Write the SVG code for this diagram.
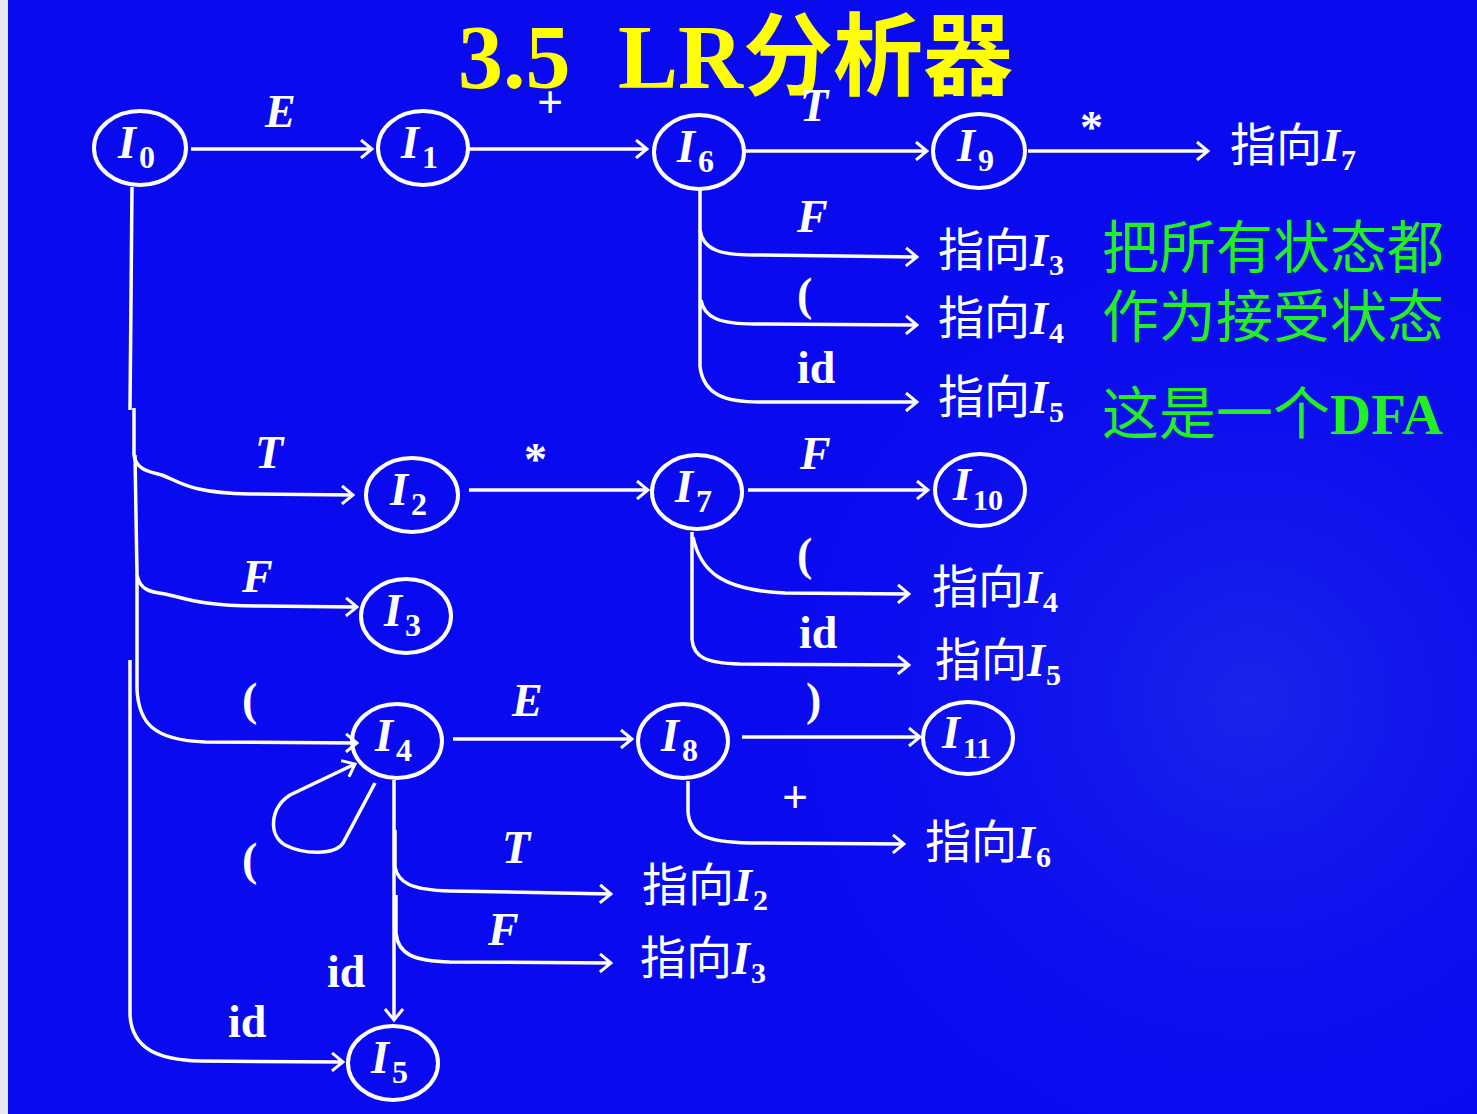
<svg xmlns="http://www.w3.org/2000/svg" width="1477" height="1114" viewBox="0 0 1477 1114">
<defs>
<radialGradient id="bgg" cx="1250" cy="700" r="550" gradientUnits="userSpaceOnUse">
<stop offset="0" stop-color="#2030e8" stop-opacity="0.7"/>
<stop offset="1" stop-color="#0a0af0" stop-opacity="0"/>
</radialGradient>
<marker id="ah" viewBox="0 0 14 20" refX="12" refY="10" markerWidth="14" markerHeight="20" markerUnits="userSpaceOnUse" orient="auto">
<path d="M1,1 L12,10 L1,19" fill="none" stroke="#fff" stroke-width="3"/>
</marker>
<style>
.n ellipse{fill:none;stroke:#fff;stroke-width:4}
.nl{font-family:"Liberation Serif",serif;font-style:italic;font-weight:bold;font-size:46px;fill:#fff}
.sb{font-style:normal;font-size:32px}
.sb2{font-style:normal;font-size:30px}
.c path{fill:none;stroke:#fff;stroke-width:3.5}
.ar{marker-end:url(#ah)}
.el{font-family:"Liberation Serif",serif;font-style:italic;font-weight:bold;font-size:46px;fill:#fff}
.er{font-family:"Liberation Serif",serif;font-weight:bold;font-size:46px;fill:#fff}
.pt{font-family:"Noto Sans CJK SC",sans-serif;font-size:46px;fill:#fff}
.pi{font-family:"Liberation Serif",serif;font-style:italic;font-weight:bold}
.ps{font-family:"Liberation Serif",serif;font-weight:bold;font-size:30px}
.gr{font-family:"Noto Sans CJK SC",sans-serif;font-size:57px;fill:#22f022}
</style>
</defs>
<rect width="1477" height="1114" fill="#0a0af0"/>
<rect width="1477" height="1114" fill="url(#bgg)"/>
<rect width="8" height="1114" fill="#e6e6ee"/>

<text x="458" y="88" font-family="Liberation Serif,serif" font-weight="bold" font-size="90" fill="#ffff00">3.5<tspan x="618">LR</tspan><tspan font-family="Noto Sans CJK SC,sans-serif">分析器</tspan></text>

<g class="c" id="connectors">
<path class="ar" d="M191,149 L372,149"/>
<path class="ar" d="M469,149 L647,149"/>
<path class="ar" d="M745,151 L927,151"/>
<path class="ar" d="M1028,151 L1208,151"/>
<path d="M700,190 L700,367"/>
<path class="ar" d="M700,230 C703,250 720,255 755,255 L917,257"/>
<path class="ar" d="M701,300 C704,318 720,324 755,324 L917,325"/>
<path class="ar" d="M700,367 C704,395 725,402 760,402 L917,402"/>
<path d="M132,187 L130,410"/>
<path class="ar" d="M134,408 L134,455 C136,470 150,472 162,475 C180,482 190,493 250,494 L353,495"/>
<path class="ar" d="M135,455 L137,575 C140,590 150,592 165,594 C185,598 200,606 260,606 L357,607"/>
<path class="ar" d="M137,575 L137,690 C139,722 152,740 205,742 L357,743"/>
<path class="ar" d="M130,660 L130,1015 C132,1050 160,1060 200,1061 L343,1062"/>
<path class="ar" d="M469,490 L648,490"/>
<path class="ar" d="M748,490 L928,490"/>
<path d="M692,532 L692,640"/>
<path class="ar" d="M693,537 C700,570 720,590 785,593 L909,594"/>
<path class="ar" d="M692,640 C694,657 705,663 740,664 L909,665"/>
<path class="ar" d="M453,739 L632,739"/>
<path class="ar" d="M742,737 L920,737"/>
<path class="ar" d="M688,781 L688,812 C690,835 705,842 750,843 L904,844"/>
<path class="ar" d="M375,783 L343,843 C335,855 305,855 285,845 C268,835 270,808 290,795 L355,764"/>
<path class="ar" d="M394,780 L394,1020"/>
<path class="ar" d="M395,830 L395,867 C398,882 410,890 450,891 L611,894"/>
<path class="ar" d="M396,895 L396,933 C398,955 415,961 450,962 L611,963"/>
</g>

<g id="edge-labels">
<text class="el" x="265" y="127">E</text>
<text class="er" x="537" y="118" font-weight="normal">+</text>
<text class="el" x="800" y="121">T</text>
<text class="er" x="1080" y="143" font-size="54">*</text>
<text class="el" x="797" y="232">F</text>
<text class="er" x="797" y="310" font-weight="normal">(</text>
<text class="er" x="797" y="383">id</text>
<text class="el" x="255" y="468">T</text>
<text class="el" x="242" y="592">F</text>
<text class="er" x="242" y="715" font-weight="normal">(</text>
<text class="er" x="228" y="1037">id</text>
<text class="er" x="524" y="475" font-size="54">*</text>
<text class="el" x="800" y="469">F</text>
<text class="er" x="797" y="570" font-weight="normal">(</text>
<text class="er" x="799" y="648">id</text>
<text class="el" x="512" y="716">E</text>
<text class="er" x="806" y="715" font-weight="normal">)</text>
<text class="er" x="782" y="813" font-weight="normal">+</text>
<text class="er" x="242" y="875" font-weight="normal">(</text>
<text class="el" x="502" y="863">T</text>
<text class="el" x="488" y="945">F</text>
<text class="er" x="327" y="987">id</text>
</g>

<g class="n" id="I0"><ellipse cx="140" cy="148" rx="46" ry="37"/><text class="nl" x="118" y="158">I<tspan class="sb" dx="3" dy="10">0</tspan></text></g>
<g class="n" id="I1"><ellipse cx="423" cy="148" rx="45" ry="37"/><text class="nl" x="401" y="158">I<tspan class="sb" dx="3" dy="10">1</tspan></text></g>
<g class="n" id="I6"><ellipse cx="699" cy="152" rx="45" ry="37"/><text class="nl" x="677" y="162">I<tspan class="sb" dx="3" dy="10">6</tspan></text></g>
<g class="n" id="I9"><ellipse cx="979" cy="151" rx="46" ry="37"/><text class="nl" x="957" y="161">I<tspan class="sb" dx="3" dy="10">9</tspan></text></g>
<g class="n" id="I2"><ellipse cx="412" cy="495" rx="46" ry="37"/><text class="nl" x="390" y="505">I<tspan class="sb" dx="3" dy="10">2</tspan></text></g>
<g class="n" id="I3"><ellipse cx="406" cy="616" rx="45" ry="37"/><text class="nl" x="384" y="626">I<tspan class="sb" dx="3" dy="10">3</tspan></text></g>
<g class="n" id="I7"><ellipse cx="697" cy="492" rx="45" ry="37"/><text class="nl" x="675" y="502">I<tspan class="sb" dx="3" dy="10">7</tspan></text></g>
<g class="n" id="I10"><ellipse cx="980" cy="490" rx="45" ry="36"/><text class="nl" x="953" y="500">I<tspan class="sb2" dx="2" dy="10">10</tspan></text></g>
<g class="n" id="I4"><ellipse cx="397" cy="741" rx="45" ry="37"/><text class="nl" x="375" y="751">I<tspan class="sb" dx="3" dy="10">4</tspan></text></g>
<g class="n" id="I8"><ellipse cx="683" cy="741" rx="45" ry="37"/><text class="nl" x="661" y="751">I<tspan class="sb" dx="3" dy="10">8</tspan></text></g>
<g class="n" id="I11"><ellipse cx="968" cy="738" rx="45" ry="36"/><text class="nl" x="942" y="748">I<tspan class="sb2" dx="3" dy="10">11</tspan></text></g>
<g class="n" id="I5"><ellipse cx="393" cy="1063" rx="45" ry="37"/><text class="nl" x="371" y="1073">I<tspan class="sb" dx="3" dy="10">5</tspan></text></g>

<g id="pointers">
<text class="pt" x="1230" y="161">指向<tspan class="pi">I</tspan><tspan class="ps" dx="1" dy="9">7</tspan></text>
<text class="pt" x="938" y="266">指向<tspan class="pi">I</tspan><tspan class="ps" dx="1" dy="9">3</tspan></text>
<text class="pt" x="938" y="334">指向<tspan class="pi">I</tspan><tspan class="ps" dx="1" dy="9">4</tspan></text>
<text class="pt" x="938" y="413">指向<tspan class="pi">I</tspan><tspan class="ps" dx="1" dy="9">5</tspan></text>
<text class="pt" x="932" y="603">指向<tspan class="pi">I</tspan><tspan class="ps" dx="1" dy="9">4</tspan></text>
<text class="pt" x="935" y="676">指向<tspan class="pi">I</tspan><tspan class="ps" dx="1" dy="9">5</tspan></text>
<text class="pt" x="925" y="858">指向<tspan class="pi">I</tspan><tspan class="ps" dx="1" dy="9">6</tspan></text>
<text class="pt" x="642" y="901">指向<tspan class="pi">I</tspan><tspan class="ps" dx="1" dy="9">2</tspan></text>
<text class="pt" x="640" y="974">指向<tspan class="pi">I</tspan><tspan class="ps" dx="1" dy="9">3</tspan></text>
</g>

<g id="note">
<text class="gr" x="1102" y="268">把所有状态都</text>
<text class="gr" x="1102" y="337">作为接受状态</text>
<text class="gr" x="1102" y="434">这是一个<tspan font-family="Liberation Serif,serif" font-weight="bold">DFA</tspan></text>
</g>
</svg>
